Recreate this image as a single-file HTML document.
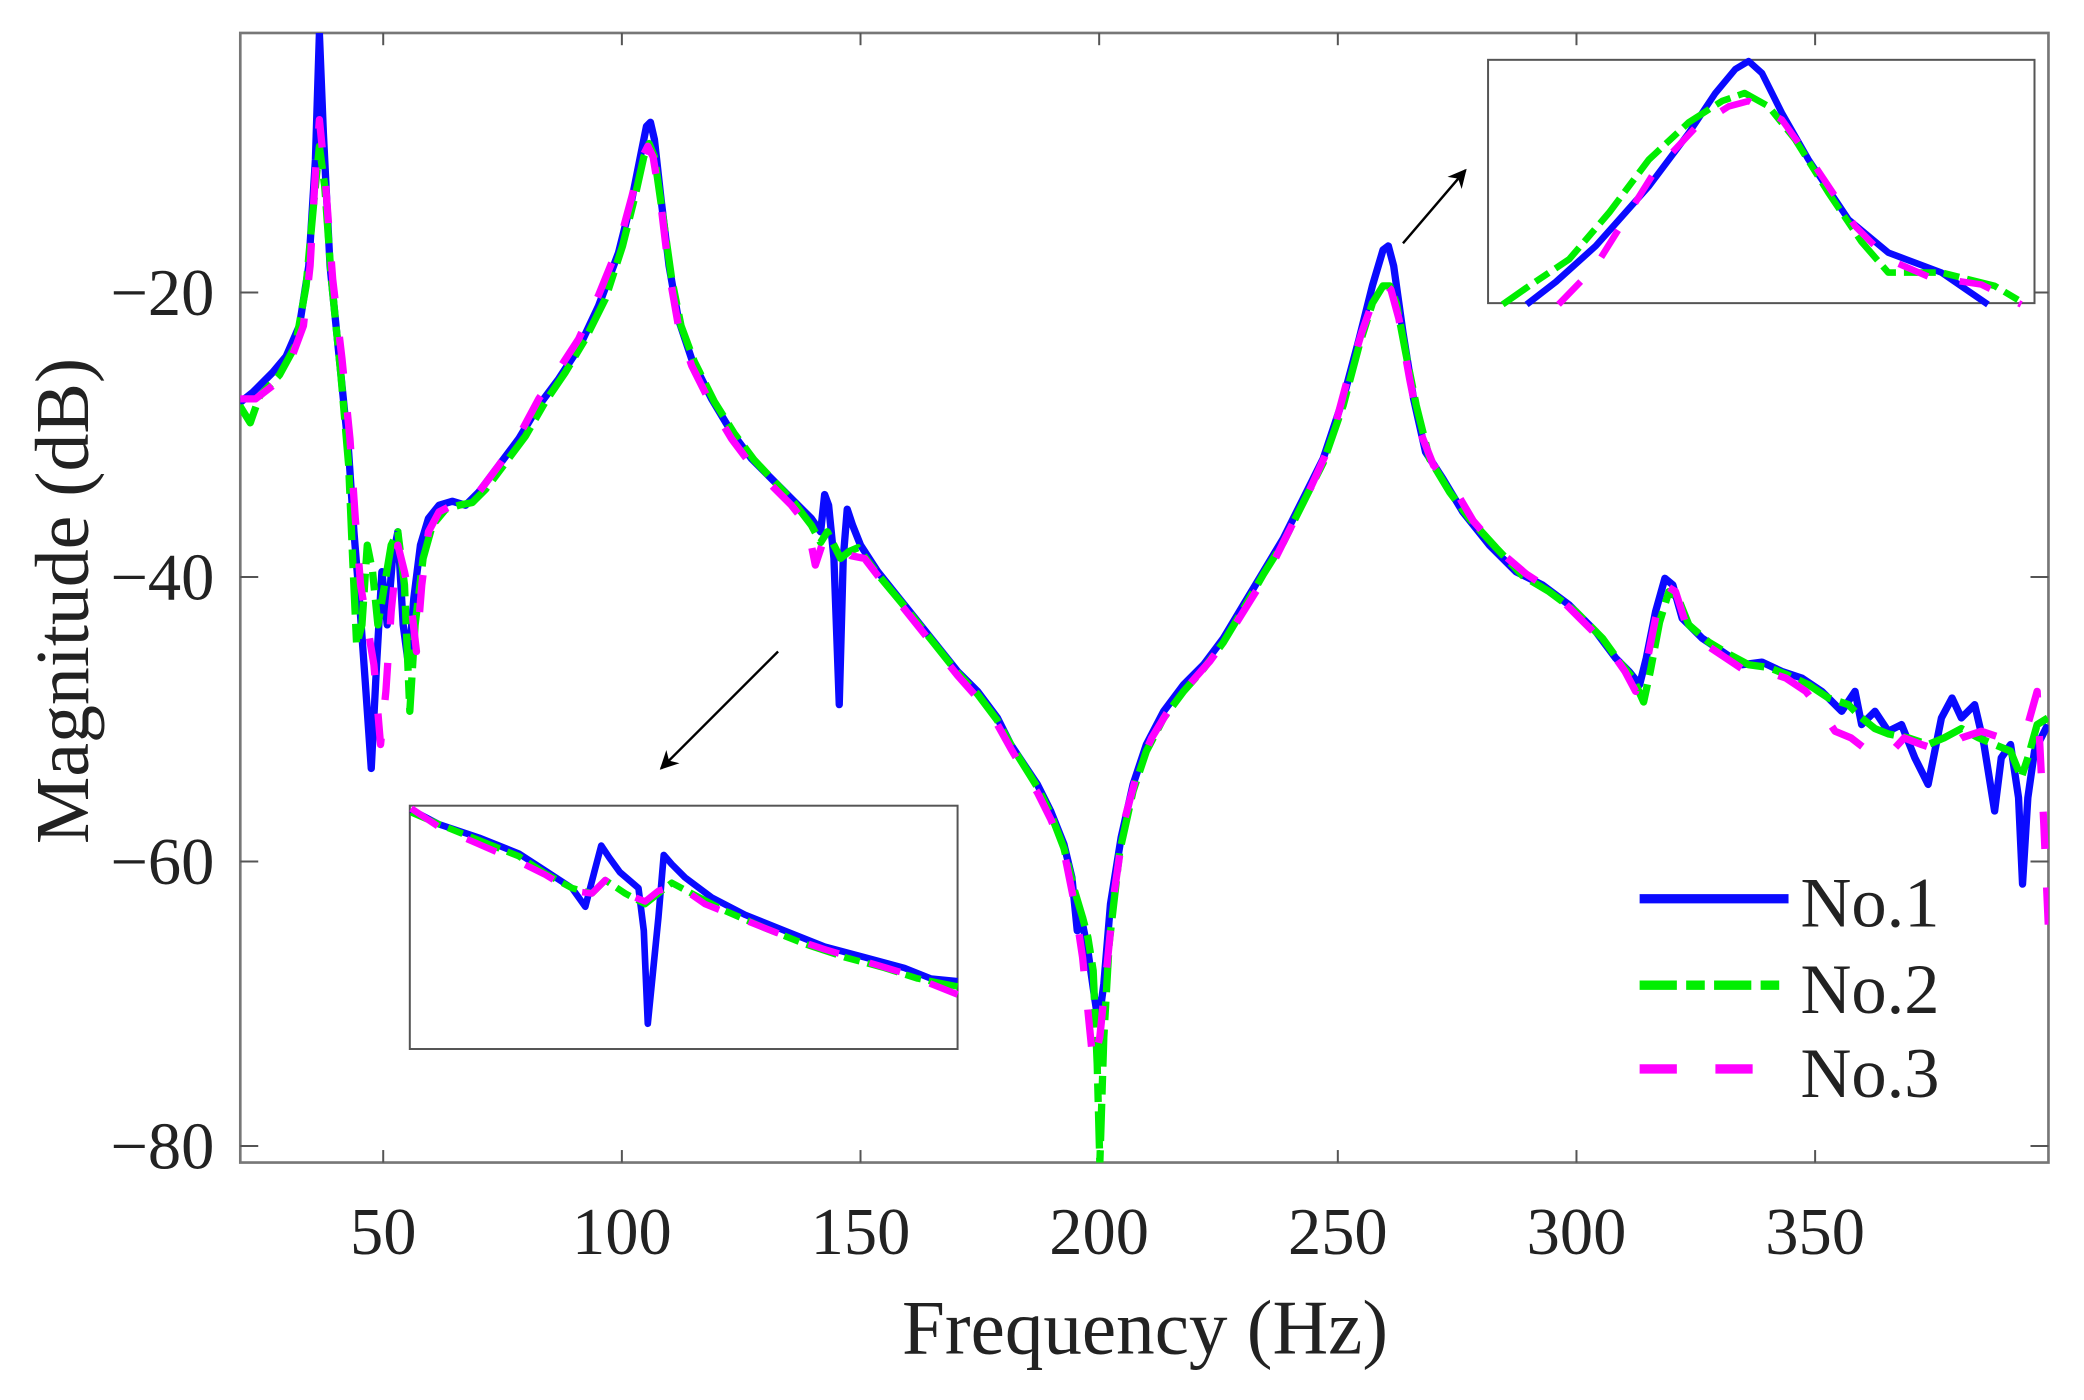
<!DOCTYPE html>
<html><head><meta charset="utf-8"><style>
html,body{margin:0;padding:0;background:#fff;}
svg{display:block;}
text{font-family:"Liberation Serif",serif;fill:#222;}
</style></head><body>
<svg width="2084" height="1400" viewBox="0 0 1567 1053" xmlns="http://www.w3.org/2000/svg">
<rect x="0" y="0" width="1567" height="1053" fill="#fff"/>
<defs>
<clipPath id="pc"><rect x="180.5" y="24.8" width="1360" height="849.6"/></clipPath>
<marker id="ah" viewBox="0 0 10 10" refX="9" refY="5" markerWidth="14" markerHeight="14" markerUnits="userSpaceOnUse" orient="auto"><path d="M0,0 L10,5 L0,10 L3,5 z" fill="#000"/></marker>
</defs>
<!-- axes -->
<rect x="180.5" y="24.8" width="1360" height="849.6" fill="none" stroke="#777" stroke-width="2"/>
<g stroke="#555" stroke-width="1.5">
<line x1="288" y1="874.4" x2="288" y2="865"/><line x1="467.5" y1="874.4" x2="467.5" y2="865"/>
<line x1="647" y1="874.4" x2="647" y2="865"/><line x1="826.5" y1="874.4" x2="826.5" y2="865"/>
<line x1="1006" y1="874.4" x2="1006" y2="865"/><line x1="1185.5" y1="874.4" x2="1185.5" y2="865"/>
<line x1="1365" y1="874.4" x2="1365" y2="865"/>
<line x1="288" y1="24.8" x2="288" y2="34"/><line x1="467.5" y1="24.8" x2="467.5" y2="34"/>
<line x1="647" y1="24.8" x2="647" y2="34"/><line x1="826.5" y1="24.8" x2="826.5" y2="34"/>
<line x1="1006" y1="24.8" x2="1006" y2="34"/><line x1="1185.5" y1="24.8" x2="1185.5" y2="34"/>
<line x1="1365" y1="24.8" x2="1365" y2="34"/>
<line x1="180.5" y1="220" x2="194" y2="220"/><line x1="180.5" y1="434" x2="194" y2="434"/>
<line x1="180.5" y1="648" x2="194" y2="648"/><line x1="180.5" y1="862" x2="194" y2="862"/>
<line x1="1540.5" y1="220" x2="1527" y2="220"/><line x1="1540.5" y1="434" x2="1527" y2="434"/>
<line x1="1540.5" y1="648" x2="1527" y2="648"/><line x1="1540.5" y1="862" x2="1527" y2="862"/>
</g>
<g font-size="50" text-anchor="middle">
<text x="288" y="943">50</text><text x="467.5" y="943">100</text><text x="647" y="943">150</text>
<text x="826.5" y="943">200</text><text x="1006" y="943">250</text><text x="1185.5" y="943">300</text>
<text x="1365" y="943">350</text>
</g>
<g font-size="50" text-anchor="end">
<text x="161" y="237">−20</text><text x="161" y="451">−40</text><text x="161" y="665">−60</text><text x="161" y="879">−80</text>
</g>
<text x="861" y="1018" font-size="58" text-anchor="middle">Frequency (Hz)</text>
<text transform="translate(66,452) rotate(-90)" font-size="57" text-anchor="middle">Magnitude (dB)</text>

<g clip-path="url(#pc)" fill="none" stroke-width="5.5" stroke-linejoin="round">
<polyline stroke="#0a0aff" points="180,303 190,295 205,280 215,268 225,245 232,200 237,120 240,25 243,100 248,200 255,270 262,340 266,400 270,450 275,520 279,578 283,500 287,430 291,470 295,420 299,400 303,470 307,500 311,450 316,410 322,390 330,380 340,377 350,380 360,370 375,350 390,330 405,305 420,285 435,262 450,230 465,190 475,150 482,115 486,95 489,92 492,105 497,150 503,200 510,240 520,270 535,300 550,325 565,345 580,360 595,375 610,390 617,400 620,372 623,380 627,420 631,530 634,420 637,383 641,395 647,410 660,430 680,455 700,480 720,505 735,520 750,540 760,560 770,575 780,590 790,610 800,635 806,660 810,700 813,690 818,715 823,750 826,770 830,740 835,680 843,630 852,590 862,560 875,535 890,515 905,500 920,480 935,455 950,430 965,405 980,375 995,345 1010,300 1022,255 1032,215 1040,188 1044,185 1048,200 1055,250 1063,300 1072,340 1085,360 1100,385 1120,410 1140,430 1160,440 1180,455 1200,475 1215,495 1225,505 1233,515 1238,495 1245,460 1252,435 1258,440 1265,465 1280,480 1295,490 1310,500 1325,498 1340,505 1355,510 1370,520 1385,535 1395,520 1400,545 1410,535 1420,550 1430,545 1440,570 1450,590 1460,540 1468,525 1475,540 1485,530 1492,560 1500,610 1505,570 1512,560 1518,600 1521,665 1525,600 1530,565 1540,545"/>
<polyline stroke="#00ee00" stroke-dasharray="28 7 14 7" points="180,305 188,318 195,298 210,282 222,260 230,215 236,150 240,110 244,140 249,210 256,280 262,350 265,420 268,485 272,470 276,410 280,430 284,470 289,440 294,410 299,400 304,440 308,535 312,470 318,420 325,395 335,383 345,380 355,378 365,368 380,348 395,328 410,302 425,280 440,255 455,225 468,185 478,145 484,118 488,108 492,118 498,160 505,210 512,245 522,272 537,302 552,326 567,346 582,362 597,378 610,395 617,408 622,400 627,410 632,420 638,415 645,412 660,432 680,456 700,481 720,506 735,522 750,542 760,560 770,576 780,592 790,612 800,638 808,670 814,690 818,705 822,730 825,800 827,875 830,780 834,710 842,640 852,595 862,565 875,540 890,520 905,503 920,483 935,458 950,432 965,408 980,378 995,348 1010,305 1022,260 1032,228 1040,215 1045,215 1050,228 1057,265 1065,305 1075,345 1090,370 1105,390 1125,412 1145,433 1165,445 1185,460 1205,480 1218,498 1228,510 1236,528 1241,505 1248,468 1255,445 1262,450 1270,470 1285,483 1300,492 1315,500 1330,502 1345,508 1360,515 1375,525 1390,530 1400,540 1410,548 1420,552 1435,555 1450,560 1462,555 1475,548 1488,555 1500,560 1512,565 1520,585 1525,570 1532,545 1540,540"/>
<polyline stroke="#ff00ff" stroke-dasharray="28 29" points="180,300 192,300 205,290 218,272 228,245 233,200 237,130 240,90 244,130 250,210 257,270 263,330 267,390 271,440 276,470 281,500 286,560 290,520 294,460 299,410 304,430 309,455 313,490 317,440 322,400 330,385 340,380 350,380 360,370 375,350 390,328 405,300 420,278 435,255 450,222 465,185 475,148 482,120 487,110 491,118 497,155 503,205 510,245 520,275 535,305 550,330 565,350 580,365 595,380 607,395 613,425 618,410 625,405 632,410 640,418 650,420 660,433 680,458 700,483 720,508 735,525 750,545 760,563 770,580 780,596 790,616 800,640 808,680 814,720 818,760 822,800 827,780 832,730 838,670 846,615 856,578 866,555 880,532 895,514 910,497 925,476 940,452 955,428 970,398 985,368 1000,335 1012,290 1024,250 1034,222 1041,213 1046,218 1052,240 1060,285 1068,325 1078,350 1092,365 1108,392 1128,415 1148,432 1168,445 1188,465 1208,485 1222,505 1230,520 1238,500 1245,465 1252,440 1260,445 1268,470 1283,485 1298,495 1313,505 1328,505 1343,510 1358,520 1370,535 1380,550 1392,555 1405,565 1420,568 1432,555 1445,560 1460,565 1475,555 1490,550 1505,555 1515,550 1525,545 1532,520 1537,620 1541,710"/>
</g>

<!-- inset bottom-left -->
<rect x="308" y="606" width="412" height="183" fill="#fff" stroke="#555" stroke-width="1.5"/>
<g fill="none" stroke-width="5" stroke-linejoin="round">
<polyline stroke="#0a0aff" points="309,609 330,620 360,630 390,642 410,655 430,668 440,682 447,655 452,636 458,645 466,656 480,668 484,700 487,770 491,730 495,690 499,643 505,650 515,660 535,675 560,688 590,700 620,712 650,720 680,728 700,736 720,738"/>
<polyline stroke="#00ee00" stroke-dasharray="24 6 12 6" points="309,611 330,620 360,632 390,644 410,657 430,668 445,672 455,662 470,672 485,680 495,672 505,664 520,672 545,685 575,698 605,710 635,720 665,728 690,736 720,742"/>
<polyline stroke="#ff00ff" stroke-dasharray="24 24" points="309,608 330,622 360,635 390,648 410,658 430,670 445,672 455,662 470,672 485,678 495,670 510,666 530,680 560,692 590,704 620,714 650,723 680,732 700,740 720,748"/>
</g>
<!-- inset top-right -->
<rect x="1119" y="45" width="411" height="183" fill="#fff" stroke="#555" stroke-width="1.5"/>
<g fill="none" stroke-width="5" stroke-linejoin="round">
<polyline stroke="#0a0aff" points="1148,229 1170,212 1200,185 1240,140 1270,100 1290,70 1305,52 1315,46 1325,55 1340,85 1360,120 1390,165 1420,190 1460,205 1495,229"/>
<polyline stroke="#00ee00" stroke-dasharray="24 6 12 6" points="1130,229 1150,215 1180,195 1210,160 1240,120 1270,92 1295,76 1312,70 1330,80 1350,105 1375,145 1400,182 1420,205 1460,205 1500,215 1520,227"/>
<polyline stroke="#ff00ff" stroke-dasharray="24 24" points="1172,229 1200,200 1225,160 1245,128 1275,96 1300,80 1315,76 1340,90 1365,125 1395,170 1420,195 1450,208 1490,214 1520,229"/>
</g>
<!-- arrows -->
<line x1="585" y1="490" x2="497" y2="578" stroke="#000" stroke-width="1.8" marker-end="url(#ah)"/>
<line x1="1055" y1="183" x2="1102" y2="128" stroke="#000" stroke-width="1.8" marker-end="url(#ah)"/>

<!-- legend -->
<line x1="1233" y1="676" x2="1345" y2="676" stroke="#0a0aff" stroke-width="7"/>
<line x1="1233" y1="741" x2="1345" y2="741" stroke="#00ee00" stroke-width="7" stroke-dasharray="28 7 14 7"/>
<line x1="1233" y1="804" x2="1345" y2="804" stroke="#ff00ff" stroke-width="7" stroke-dasharray="28 29"/>
<g font-size="53">
<text x="1354" y="697">No.1</text>
<text x="1354" y="762">No.2</text>
<text x="1354" y="825">No.3</text>
</g>
</svg>
</body></html>
